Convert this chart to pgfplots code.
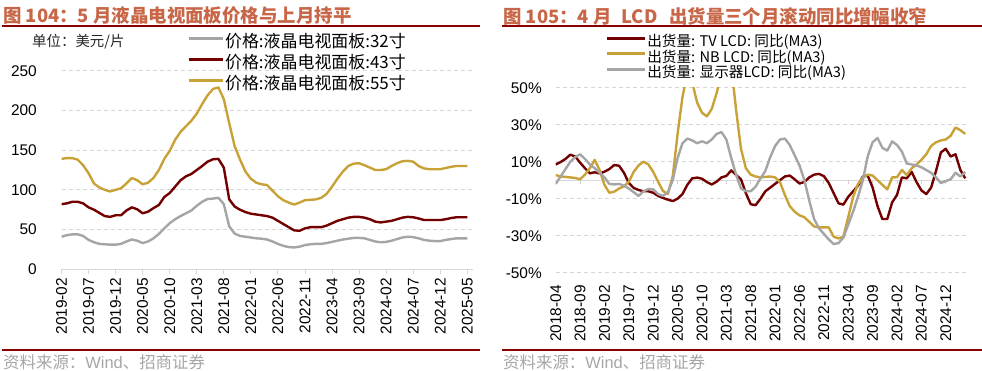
\documentclass[border=0pt]{standalone}
\usepackage{pgfplots}
\pgfplotsset{compat=1.18}
\usepackage{pgfplotstable}
\usepackage{fontspec}
\setmainfont{Liberation Sans}
\newfontfamily\cjk{Noto Sans CJK SC}

\definecolor{cgray}{RGB}{165,165,165}
\definecolor{cred}{RGB}{115,0,0}
\definecolor{cgold}{RGB}{201,162,55}
\definecolor{ctitle}{RGB}{200,102,72}
\definecolor{crule}{RGB}{140,0,0}
\definecolor{cgrid}{RGB}{215,215,215}
\definecolor{csrc}{RGB}{166,166,166}

\pgfplotstableread{
i g r y
0 41 82 139
1 43 83 140
2 44 85 140
3 44 85 138
4 42 83 131
5 37 78 121
6 34 75 108
7 32 71 103
8 31.5 67 100
9 31 66 98
10 31 68 100
11 32 68 102
12 35 74 108
13 37.5 78 115
14 36 75.5 112
15 33 70.5 107
16 35 72.5 109
17 39 77 115
18 44.5 81 125
19 51.5 91 139
20 58 96 149
21 63 104 163
22 67 112 173
23 70.5 117 180
24 74 120 187
25 80 125 196
26 85 130 208
27 88.5 135.5 219
28 89 138.5 227
29 90 139 229
30 82 128 214
31 54 88 184
32 45 79 155
33 42 75 138
34 41 72 123
35 40 70 114
36 39 69 109
37 38.5 68 107
38 37.5 67 106
39 35 65 99
40 32 61 92
41 29.5 57 87
42 28 53 84
43 27.5 49 81.5
44 28.5 48.5 84
45 30.5 51.5 87
46 31.5 53 87.5
47 32 53 88
48 32 53 90
49 33 55 95
50 34.5 58 104
51 36 61 114
52 37.5 63 123
53 38.5 65 130
54 39.5 66 133
55 39.5 66 133.5
56 39 65 131
57 37 63 128
58 35 60 125
59 34 59 125
60 34.5 60 126
61 36 61 130
62 38 63 133.5
63 40 65 136
64 41 66 136.5
65 40.5 65.5 135.5
66 39 64 130
67 37 62 127
68 36 62 126
69 35.5 62 126
70 35.5 62 126
71 37 63 127.5
72 38 64.5 129
73 39 65.5 130
74 39 65.5 130
75 39 65.5 130
}\leftdata

\pgfplotstableread{
j tv nb dp
0 8.5 2.8 -2
1 9.8 2 2
2 11.5 1.8 6
3 13.8 1.5 10
4 12.8 1.2 12.5
5 9.5 0.5 14
6 6.5 3 11.5
7 3.7 6.5 8.5
8 4.3 11 6.5
9 3.6 5.5 4
10 4.6 -2.5 1.5
11 6 -6.8 -2
12 8.2 -6.2 -2.3
13 7.8 -4.5 -2
14 4 -3.3 -3
15 -1.5 -0.8 -4.5
16 -4.2 4.5 -6.5
17 -5.3 8 -8.5
18 -6 10 -6
19 -6 8.5 -4.8
20 -6.8 4.5 -5
21 -8.5 -0.8 -7.5
22 -9.6 -5.8 -8.5
23 -10.5 -7.5 -6.5
24 -11.3 2 0
25 -10 25 12
26 -7.5 45 20
27 -2.5 58 22.5
28 1 53 21.5
29 1.4 42 20
30 0.8 36.5 21
31 -1 34.5 20
32 -2.3 38.5 22
33 -0.8 47 25
34 1.5 58 26
35 2.3 68 22
36 5.3 62 12
37 2.8 38 3
38 0.5 17 -4.5
39 -7 6.5 -6
40 -13 3 -6
41 -13.5 2 -3.5
42 -10 1.5 1
43 -6 1.8 5
44 -4 2 12.5
45 -2 1.5 18.5
46 0 -1 22
47 2 -8 22.5
48 2.5 -14 19
49 0.5 -17 13.5
50 -1.8 -19 8
51 -1 -20 0
52 1.5 -22.5 -11
53 3 -25 -21
54 3.4 -25.5 -26
55 2.2 -25.5 -29
56 -1.5 -25.5 -32
57 -7 -30.5 -34.5
58 -12.5 -31.5 -34
59 -13.2 -30.5 -31
60 -9 -20 -24
61 -6 -9 -17
62 -3 -2 -9
63 2 1.5 0
64 2.5 3 13
65 -4 2.5 20.5
66 -14 0 22.8
67 -21 -2.5 17.5
68 -21 -5 16
69 -12 1.5 21
70 -8 1.6 19
71 1.5 5.5 15.5
72 1 2.8 9
73 4.5 6.4 8.5
74 -1 8.5 8
75 -5.5 11 7
76 -7.5 14 5.5
77 -4 18.5 4
78 5 20.5 1.5
79 15 21.5 -1.5
80 17 22 -0.5
81 12.8 24 0.5
82 14 28.5 4
83 5.5 27 2
84 1 25 4.5
}\rightdata

\pgfplotsset{
  common/.style={
    scale only axis,
    anchor=south west,
    tick label style={font=\fontsize{15.5}{15.5}\selectfont},
    xticklabel style={rotate=90, anchor=east},
    /pgf/number format/assume math mode=true,
    ymajorgrids,
    major grid style={dash pattern=on 4bp off 3bp, draw=cgrid, line width=0.9bp},
    legend cell align=left,
    every axis plot/.append style={line width=2.4bp, line join=round},
  }
}

\begin{document}
\begin{tikzpicture}
\path[use as bounding box] (0,0) rectangle (982bp,371bp);

% titles and rules
\node[anchor=west, inner sep=0pt, text=ctitle, font=\cjk\bfseries\fontsize{18.5}{18.5}\selectfont] at (3bp,355bp) {图 104：5 月液晶电视面板价格与上月持平};
\node[anchor=west, inner sep=0pt, text=ctitle, font=\cjk\bfseries\fontsize{18.5}{18.5}\selectfont] at (503bp,355bp) {图 105：4 月\hspace{0.3em} LCD\hspace{0.4em} 出货量三个月滚动同比增幅收窄};
\draw[crule, line width=1.5bp] (2bp,345bp) -- (480bp,345bp);
\draw[crule, line width=1.5bp] (502bp,345bp) -- (982bp,345bp);
\draw[crule, line width=1.5bp] (2bp,21bp) -- (480bp,21bp);
\draw[crule, line width=1.5bp] (502bp,21bp) -- (982bp,21bp);
\node[anchor=west, inner sep=0pt, text=csrc, font=\fontsize{16.5}{16.5}\selectfont] at (3bp,8.5bp) {{\cjk 资料来源：}Wind{\cjk 、招商证券}};
\node[anchor=west, inner sep=0pt, text=csrc, font=\fontsize{16.5}{16.5}\selectfont] at (503bp,8.5bp) {{\cjk 资料来源：}Wind{\cjk 、招商证券}};
\node[anchor=west, inner sep=0pt, text=black!85, font=\cjk\fontsize{14.5}{14.5}\selectfont] at (32bp,329bp) {单位：美元/片};

% left chart
\begin{axis}[common,
  at={(61.5bp,101.7bp)},
  width=411.2bp, height=198.6bp,
  xmin=0, xmax=76, ymin=0, ymax=250,
  axis x line*=bottom, axis y line*=left,
  x axis line style={draw=cgrid, line width=0.9bp, -},
  y axis line style={draw=none},
  tick align=outside, major tick length=5bp,
  xtick={0,5,...,75},
  xticklabels={2019-02,2019-07,2019-12,2020-05,2020-10,2021-03,2021-08,2022-01,2022-06,2022-11,2023-04,2023-09,2024-02,2024-07,2024-12,2025-05},
  xtick style={draw=cgrid, line width=0.9bp},
  ytick={0,50,...,250}, ytick style={draw=none},
  yticklabel style={anchor=east, inner sep=0pt, xshift=-19.5bp},
  legend style={at={(0.305,1.182)}, anchor=north west, draw=none, fill=none, inner sep=0pt, row sep=4bp,
    font=\cjk\fontsize{17}{17}\selectfont,
    nodes={inner sep=1bp, text height=12bp, text depth=3bp}},
  legend image code/.code={\draw[#1, line width=3bp] (0bp,5bp) -- (34bp,5bp);},
]
\addplot[cgray, no markers] table[x=i, y=g] {\leftdata};
\addlegendentry{价格:液晶电视面板:32寸}
\addplot[cred, no markers] table[x=i, y=r] {\leftdata};
\addlegendentry{价格:液晶电视面板:43寸}
\addplot[cgold, no markers] table[x=i, y=y] {\leftdata};
\addlegendentry{价格:液晶电视面板:55寸}
\end{axis}

% right chart
\begin{axis}[common,
  at={(555.7bp,98.3bp)},
  width=411.5bp, height=185bp,
  xmin=0, xmax=84.4, ymin=-50, ymax=50,
  axis x line*=bottom, axis y line*=left,
  axis line style={draw=none},
  xtick={0,5,...,80},
  xticklabels={2018-04,2018-09,2019-02,2019-07,2019-12,2020-05,2020-10,2021-03,2021-08,2022-01,2022-06,2022-11,2023-04,2023-09,2024-02,2024-07,2024-12},
  xtick style={draw=none}, ytick style={draw=none},
  xticklabel shift=9bp,
  yticklabel style={anchor=east, inner sep=0pt, xshift=-13.7bp},
  ytick={-50,-30,-10,10,30,50},
  yticklabels={-50\%,-30\%,-10\%,10\%,30\%,50\%},
  extra y ticks={0}, extra y tick labels={},
  extra y tick style={grid=major, major grid style={solid, draw=black!15, line width=1.2bp}},
  legend style={at={(0.1215,1.2846)}, anchor=north west, draw=none, fill=none, inner sep=0pt, row sep=0bp,
    font=\cjk\fontsize{14.7}{14.7}\selectfont,
    nodes={inner sep=0.75bp, text height=11bp, text depth=3bp}},
  legend image code/.code={\draw[#1, line width=3bp] (0bp,4.5bp) -- (37.6bp,4.5bp);},
]
\pgfplotsinvokeforeach{0,5,...,80}{\draw[black!18, line width=0.9bp] (axis cs:#1,0) -- (axis cs:#1,-2.2);}
\addplot[cred, no markers] table[x=j, y=tv] {\rightdata};
\addlegendentry{出货量: TV LCD: 同比(MA3)}
\addplot[cgold, no markers] table[x=j, y=nb] {\rightdata};
\addlegendentry{出货量: NB LCD: 同比(MA3)}
\addplot[cgray, no markers] table[x=j, y=dp] {\rightdata};
\addlegendentry{出货量: 显示器LCD: 同比(MA3)}
\end{axis}
\end{tikzpicture}
\end{document}
